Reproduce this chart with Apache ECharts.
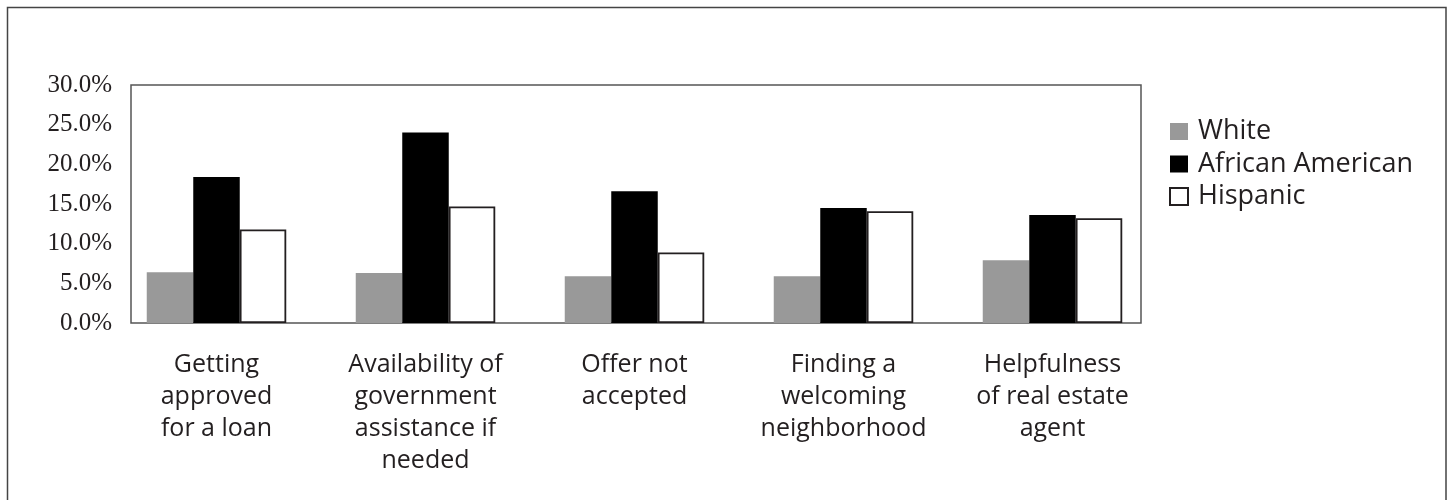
<!DOCTYPE html>
<html>
<head>
<meta charset="utf-8">
<script src="https://cdn.jsdelivr.net/npm/echarts@6/dist/echarts.min.js"></script>
<style>
  html, body { margin: 0; padding: 0; background: #ffffff; }
  #chart { width: 1450px; height: 500px; }
</style>
</head>
<body>
<div id="chart"></div>
<script>
// Reasons cited as a problem when buying a home, by group (percent)
const categories = [
  'Getting\napproved\nfor a loan',
  'Availability of\ngovernment\nassistance if\nneeded',
  'Offer not\naccepted',
  'Finding a\nwelcoming\nneighborhood',
  'Helpfulness\nof real estate\nagent'
];
const seriesNames = ['White', 'African American', 'Hispanic'];
const whiteValues = [6.4, 6.3, 5.9, 5.9, 7.9];
const africanAmericanValues = [18.4, 24.0, 16.6, 14.5, 13.6];
const hispanicValues = [11.8, 14.7, 8.9, 14.1, 13.2];
const yTicks = { min: 0, max: 30, interval: 5 };

const sansFont = '"Open Sans", "Noto Sans", sans-serif';
const serifFont = '"Liberation Serif", "DejaVu Serif", serif';
const textColor = '#231f20';

const chart = echarts.init(document.getElementById('chart'), null, { renderer: 'canvas' });

const barBase = { type: 'bar', xAxisIndex: 1, yAxisIndex: 1, barWidth: 46.5, barGap: '0%' };

chart.setOption({
  animation: false,
  backgroundColor: '#ffffff',
  grid: [
    // framed plot area carrying the percentage scale
    { left: 131, top: 85, width: 1010, height: 238, show: true, borderColor: '#555555', borderWidth: 1.5, backgroundColor: 'transparent' },
    // category band for the bar groups
    { left: 112, top: 85, width: 1045, height: 238 }
  ],
  xAxis: [
    { gridIndex: 0, type: 'value', show: false },
    {
      gridIndex: 1, type: 'category', data: categories,
      axisLine: { show: false }, axisTick: { show: false },
      axisLabel: { margin: 26, fontFamily: sansFont, fontSize: 25, lineHeight: 32, color: textColor, interval: 0, align: 'center' }
    }
  ],
  yAxis: [
    {
      gridIndex: 0, type: 'value', min: yTicks.min, max: yTicks.max, interval: yTicks.interval,
      axisLine: { show: false }, axisTick: { show: false }, splitLine: { show: false },
      axisLabel: { margin: 19, fontFamily: serifFont, fontSize: 25, color: textColor, formatter: v => v.toFixed(1) + '%' }
    },
    { gridIndex: 1, type: 'value', min: yTicks.min, max: yTicks.max, show: false }
  ],
  legend: {
    orient: 'vertical', left: 1164, top: 113,
    itemWidth: 18, itemHeight: 17, itemGap: 5.5, icon: 'rect',
    textStyle: { fontFamily: sansFont, fontSize: 27, color: textColor, padding: [0, 0, 0, 5] },
    data: seriesNames
  },
  graphic: [
    {
      type: 'rect', silent: true, z: -1,
      shape: { x: 7.5, y: 7.5, width: 1438.5, height: 520 },
      style: { fill: 'none', stroke: '#444444', lineWidth: 1.5 }
    }
  ],
  series: [
    Object.assign({}, barBase, { name: seriesNames[0], data: whiteValues, itemStyle: { color: '#999999' } }),
    Object.assign({}, barBase, { name: seriesNames[1], data: africanAmericanValues, itemStyle: { color: '#000000' } }),
    Object.assign({}, barBase, { name: seriesNames[2], data: hispanicValues, itemStyle: { color: '#ffffff', borderColor: '#231f20', borderWidth: 1.8 } })
  ]
});
</script>
</body>
</html>
